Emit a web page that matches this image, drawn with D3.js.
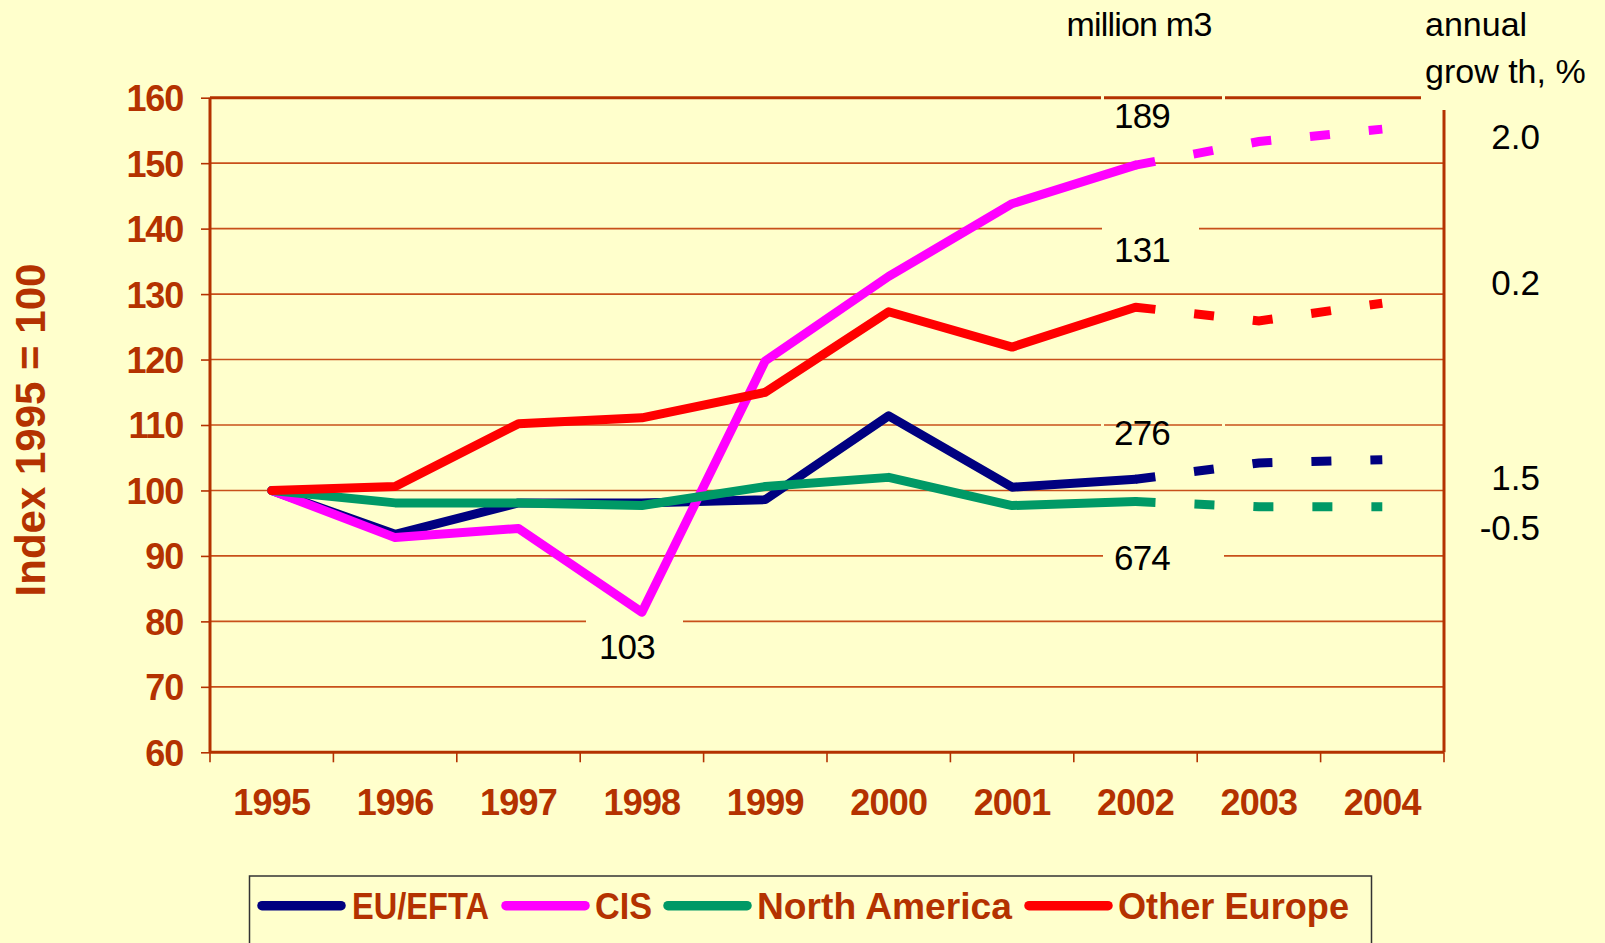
<!DOCTYPE html>
<html>
<head>
<meta charset="utf-8">
<script src="https://cdn.jsdelivr.net/npm/d3@7"></script>
<style>
  html, body { margin: 0; padding: 0; background: #FFFFCC; }
  svg { display: block; }
</style>
</head>
<body>
<script>
// ---------- DATA ----------
const years = ['1995','1996','1997','1998','1999','2000','2001','2002','2003','2004'];
const seriesNames = ['EU/EFTA', 'CIS', 'North America', 'Other Europe'];
const euEfta       = [100, 93.3, 98.1, 98.1, 98.6, 111.4, 100.5, 101.7, 104.2, 104.7];
const cis          = [100, 92.8, 94.2, 81.4, 119.8, 132.7, 143.8, 149.7, 153.3, 155.2];
const northAmerica = [100, 98.1, 98.1, 97.7, 100.6, 102.0, 97.7, 98.3, 97.5, 97.5];
const otherEurope  = [100, 100.6, 110.2, 111.1, 115.0, 127.3, 121.9, 128.0, 125.9, 128.6];
const yTicks = [60, 70, 80, 90, 100, 110, 120, 130, 140, 150, 160];
const lastActualYear = '2002';
const volumeLabels = ['276', '189', '674', '131'];     // million m3, 2002
const growthLabels = ['1.5', '2.0', '-0.5', '0.2'];    // annual growth, %
const cisLowLabel = '103';

// ---------- LAYOUT / STYLE ----------
const W = 1605, H = 943;
const plot = { left: 210, right: 1444, top: 97.7, bottom: 752.3 };
const colors = ['#000080', '#FF00FF', '#009966', '#FF0000'];
const axisColor = '#B43200';
const gridColor = '#C8501A';
const bg = '#FFFFCC';
const font = '"Liberation Sans", Arial, Helvetica, sans-serif';

const seriesValues = [euEfta, cis, northAmerica, otherEurope];

const svg = d3.select('body').append('svg').attr('width', W).attr('height', H);
svg.append('rect').attr('width', W).attr('height', H).attr('fill', bg);

const x = d3.scaleBand().domain(years).range([plot.left, plot.right]).padding(0);
const y = d3.scaleLinear().domain([60, 160]).range([plot.bottom, plot.top]);
const cx = d => x(d) + x.bandwidth() / 2;

// gridlines
svg.append('g').selectAll('line').data(yTicks.filter(t => t > 60 && t < 160)).join('line')
  .attr('x1', plot.left).attr('x2', plot.right)
  .attr('y1', d => y(d)).attr('y2', d => y(d))
  .attr('stroke', gridColor).attr('stroke-width', 1.6);

// y axis (left) with ticks outward
const yAxis = d3.axisLeft(y).tickValues(yTicks).tickSize(9).tickPadding(18).tickFormat(d3.format('d'));
const gy = svg.append('g').attr('transform', `translate(${plot.left},0)`).call(yAxis);
gy.select('.domain').remove();
gy.selectAll('.tick line').attr('stroke', axisColor).attr('stroke-width', 1.6);
gy.selectAll('.tick text').attr('fill', axisColor).attr('font-family', font)
  .attr('font-weight', 'bold').attr('font-size', 36).attr('dy', '0.36em')
  .attr('letter-spacing', -1.2);

// x axis with ticks between categories
const gx = svg.append('g').attr('transform', `translate(0,${plot.bottom})`);
const bounds = years.map(d => x(d)).concat([plot.right]);
gx.selectAll('line.xt').data(bounds).join('line').attr('class', 'xt')
  .attr('x1', d => d).attr('x2', d => d).attr('y1', 0).attr('y2', 10)
  .attr('stroke', axisColor).attr('stroke-width', 1.6);
gx.selectAll('text').data(years).join('text')
  .attr('x', d => cx(d)).attr('y', 63)
  .attr('text-anchor', 'middle').attr('fill', axisColor).attr('font-family', font)
  .attr('font-weight', 'bold').attr('font-size', 36).attr('letter-spacing', -0.8).text(d => d);

// frame lines
const frame = svg.append('g').attr('stroke', axisColor).attr('stroke-width', 3).attr('fill', 'none');
frame.append('line').attr('x1', plot.left).attr('x2', plot.left).attr('y1', plot.top).attr('y2', plot.bottom);
frame.append('line').attr('x1', plot.left).attr('x2', plot.right).attr('y1', plot.bottom).attr('y2', plot.bottom);
frame.append('line').attr('x1', plot.left).attr('x2', plot.right).attr('y1', plot.top).attr('y2', plot.top);
frame.append('line').attr('x1', plot.right).attr('x2', plot.right).attr('y1', plot.top).attr('y2', plot.bottom);

// label boxes covering gridlines
const boxes = [
  { x0: 586, x1: 683, y0: 619, y1: 672 },   // 103
  { x0: 1102, x1: 1199, y0: 224, y1: 268 }, // 131
  { x0: 1103, x1: 1224, y0: 536, y1: 578 }, // 674
  { x0: 1421, x1: 1605, y0: 0, y1: 110 }    // annual growth header
];
svg.append('g').selectAll('rect').data(boxes).join('rect')
  .attr('x', d => d.x0).attr('y', d => d.y0).attr('width', d => d.x1 - d.x0).attr('height', d => d.y1 - d.y0)
  .attr('fill', bg);
// tiny gaps at edges of 189 / 276 boxes
const gaps = [[1101, y(160)], [1222, y(160)], [1101, y(110)], [1222, y(110)]];
svg.append('g').selectAll('rect').data(gaps).join('rect')
  .attr('x', d => d[0]).attr('y', d => d[1] - 3).attr('width', 3).attr('height', 6).attr('fill', bg);

// series lines
const line = d3.line().x(d => cx(d.year)).y(d => y(d.v));
const splitIdx = years.indexOf(lastActualYear);
const lines = svg.append('g').attr('fill', 'none');
seriesValues.forEach((vals, i) => {
  const pts = vals.map((v, k) => ({ year: years[k], v }));
  lines.append('path').datum(pts.slice(0, splitIdx + 1)).attr('d', line)
    .attr('stroke', colors[i]).attr('stroke-width', 9)
    .attr('stroke-linejoin', 'round').attr('stroke-linecap', 'round');
  lines.append('path').datum(pts.slice(splitIdx)).attr('d', line)
    .attr('stroke', colors[i]).attr('stroke-width', 9)
    .attr('stroke-dasharray', '20,39').attr('stroke-linecap', 'butt');
});

// value labels (million m3)
const lab = svg.append('g').attr('font-family', font).attr('font-size', 35).attr('fill', '#000')
  .attr('text-anchor', 'middle').attr('letter-spacing', -0.8);
const labelDy = [-34.7, -37.5, 68.7, -44.7];
seriesValues.forEach((vals, i) => {
  lab.append('text').attr('x', cx(lastActualYear) + 6.5).attr('y', y(vals[splitIdx]) + labelDy[i])
    .text(volumeLabels[i]);
});
lab.append('text').attr('x', cx('1998') - 15).attr('y', y(cis[3]) + 47).text(cisLowLabel);

// growth labels (right)
const growthY = [490, 149, 540, 295];
const gl = svg.append('g').attr('font-family', font).attr('font-size', 35).attr('fill', '#000')
  .attr('text-anchor', 'end');
growthLabels.forEach((t, i) => gl.append('text').attr('x', 1540).attr('y', growthY[i]).text(t));

// header texts
const hd = svg.append('g').attr('font-family', font).attr('font-size', 34).attr('fill', '#000');
hd.append('text').attr('x', 1139).attr('y', 36).attr('text-anchor', 'middle').attr('letter-spacing', -0.8).text('million m3');
hd.append('text').attr('x', 1425).attr('y', 36).text('annual');
hd.append('text').attr('x', 1425).attr('y', 83).text('grow th, %');

// y axis title
svg.append('text').attr('transform', 'translate(45,430) rotate(-90)')
  .attr('text-anchor', 'middle').attr('font-family', font).attr('font-weight', 'bold')
  .attr('font-size', 42).attr('fill', axisColor).text('Index 1995 = 100');

// legend
const legendBox = { x: 249.5, y: 876, w: 1122, h: 80 };
svg.append('rect').attr('x', legendBox.x).attr('y', legendBox.y).attr('width', legendBox.w).attr('height', legendBox.h)
  .attr('fill', 'none').attr('stroke', '#333').attr('stroke-width', 1.5);
const legendItems = [
  { lx: 258, tx: 352, tw: 137 },
  { lx: 502, tx: 595, tw: 57 },
  { lx: 664, tx: 757, tw: 255 },
  { lx: 1025, tx: 1118, tw: 231 }
];
const lg = svg.append('g');
seriesNames.forEach((name, i) => {
  const it = legendItems[i];
  lg.append('line').attr('x1', it.lx + 4).attr('x2', it.lx + 83).attr('y1', 905.7).attr('y2', 905.7)
    .attr('stroke', colors[i]).attr('stroke-width', 9.5).attr('stroke-linecap', 'round');
  lg.append('text').attr('x', it.tx).attr('y', 919).attr('font-family', font).attr('font-weight', 'bold')
    .attr('font-size', 36).attr('fill', axisColor)
    .attr('textLength', it.tw).attr('lengthAdjust', 'spacingAndGlyphs').text(name);
});
</script>
</body>
</html>
